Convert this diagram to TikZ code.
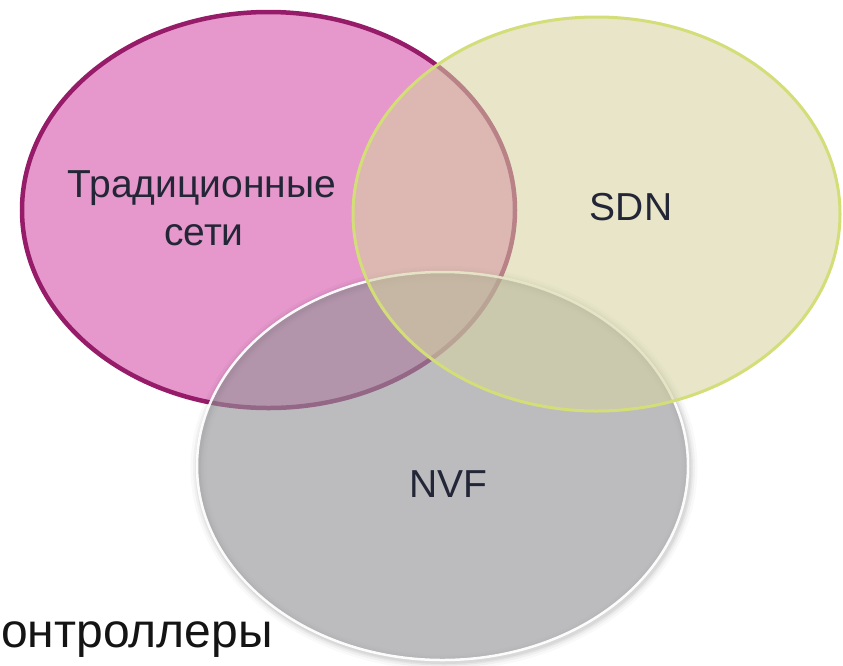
\documentclass[tikz,border=0pt]{standalone}
\usepackage{fontspec}
\setmainfont{Liberation Sans}
\definecolor{pinkfill}{HTML}{E697CB}
\definecolor{pinkline}{HTML}{961C69}
\definecolor{grayfill}{HTML}{959599}
\definecolor{yellowfill}{HTML}{D6D29F}
\definecolor{yellowline}{HTML}{D3DE78}
\definecolor{labelink}{HTML}{222636}
\begin{document}
\begin{tikzpicture}[x=1pt,y=-1pt,
  setlabel/.style={font=\fontsize{39}{48}\selectfont, text=labelink, inner sep=0pt, anchor=base},
  pinkset/.style={fill=pinkfill, draw=pinkline, line width=4.5pt},
  grayset/.style={fill=grayfill, fill opacity=0.625, draw=white, draw opacity=0.95, line width=2.5pt},
  yellowset/.style={fill=yellowfill, fill opacity=0.56, draw=yellowline, line width=3pt},
  softshadow/.style={draw=black, draw opacity=#1, fill=none}
]
\useasboundingbox (0,0) rectangle (843,665);
\fill[white] (0,0) rectangle (843,665);

% traditional networks
\path[pinkset] (268.5,210) ellipse [x radius=246.5, y radius=198];

% soft shadow under the NVF set
\foreach \w/\o in {16/0.025, 11/0.035, 7/0.045, 4/0.05}
  \path[softshadow=\o, line width=\w pt] (444,468) ellipse [x radius=245.5, y radius=194];

% NVF
\path[grayset] (442.5,466) ellipse [x radius=245.5, y radius=194];

% SDN
\path[yellowset] (596.5,214) ellipse [x radius=243.5, y radius=197];

\node[setlabel] (trad) at (202,197) {Традиционные};
\node[setlabel] (seti) at (204,245) {сети};
\node[setlabel] (sdn) at (631,220) {SDN};
\node[setlabel] (nvf) at (448.5,497) {NVF};

\node[anchor=base west, inner sep=0pt, font=\fontsize{48}{57}\selectfont, text=black!92] (ctrl) at (1,647) {онтроллеры};
\end{tikzpicture}
\end{document}
